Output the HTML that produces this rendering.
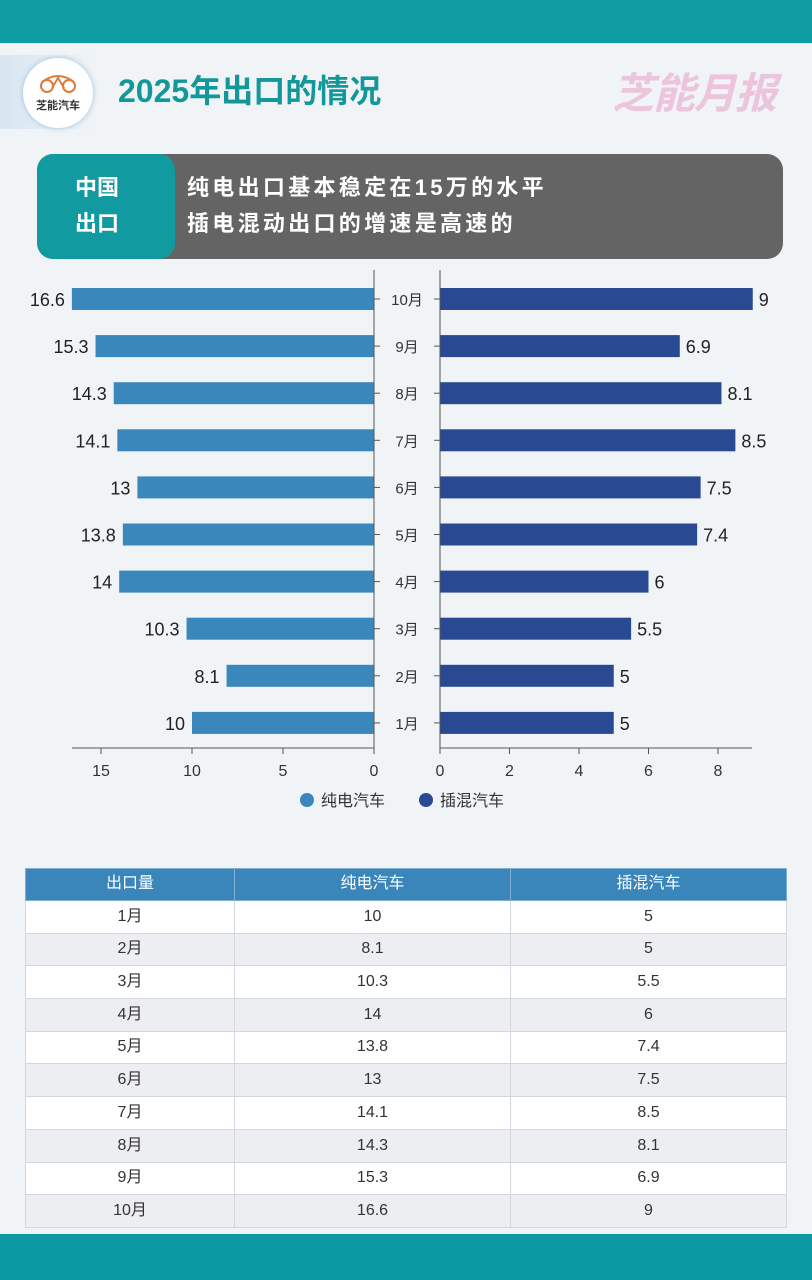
<!DOCTYPE html>
<html><head><meta charset="utf-8">
<style>
body{margin:0;width:812px;height:1280px;background:#f0f4f6;position:relative;overflow:hidden;font-family:"Liberation Sans","Noto Sans CJK SC",sans-serif;}
.abs{position:absolute;}
table{border-collapse:collapse;position:absolute;left:25px;top:868px;width:761px;font-size:16px;color:#333;table-layout:fixed;}
td,th{border:1px solid #d4d8dc;text-align:center;height:31.7px;padding:0;font-weight:normal;vertical-align:middle;line-height:20px;}
td span,th span{display:inline-block;line-height:20px;vertical-align:middle;}
th{background:#3a86bb;color:#fff;height:31px;border-color:#7fb0d4;}
tr:nth-child(odd) td{background:#fff;}
tr:nth-child(even) td{background:#eceef2;}
</style></head><body>
<div class="abs" style="left:0;top:0;width:812px;height:43px;background:#0f9ca3"></div>
<div class="abs" style="left:0;top:1234px;width:812px;height:46px;background:#0b9aa3"></div>
<div class="abs" style="left:0;top:55px;width:100px;height:74px;background:linear-gradient(90deg,#d8e6f2,#f0f4f6)"></div>
<div class="abs" style="left:23px;top:58px;width:70px;height:70px;border-radius:50%;background:#fff;box-shadow:0 0 6px #9cc0e0;text-align:center">
<svg width="40" height="22" style="margin-top:14px"><circle cx="9" cy="14" r="6" fill="none" stroke="#e07a3a" stroke-width="2"/><circle cx="31" cy="14" r="6" fill="none" stroke="#e07a3a" stroke-width="2"/><path d="M4 10 Q20 -2 36 10 M14 16 L20 6 L26 16" fill="none" stroke="#e07a3a" stroke-width="2"/></svg>
<div style="font-size:11px;color:#333;font-weight:bold;margin-top:-2px">芝能汽车</div></div>
<div class="abs" style="left:118px;top:66px;font-size:32px;font-weight:bold;color:#12989a">2025年出口的情况</div>
<div class="abs" style="left:612px;top:60px;font-size:42px;font-weight:bold;font-style:italic;color:#ecc4dc;letter-spacing:-1px">芝能月报</div>
<div class="abs" style="left:37px;top:154px;width:746px;height:105px;border-radius:16px;background:#646464;overflow:hidden">
<div style="position:absolute;left:0;top:0;width:138px;height:105px;background:#119aa0;border-radius:16px;color:#fff;font-size:22px;font-weight:bold;line-height:36px;padding:16px 0 0 38px;box-sizing:border-box">中国<br>出口</div>
<div style="position:absolute;left:150px;top:16px;color:#fff;font-size:22px;font-weight:bold;line-height:36px;letter-spacing:3.3px">纯电出口基本稳定在15万的水平<br>插电混动出口的增速是高速的</div></div>
<svg class="abs" style="left:0;top:270px" width="812" height="560" id="chart"></svg>
<table><colgroup><col style="width:209px"><col style="width:276px"><col style="width:276px"></colgroup><thead><tr><th><span>出口量</span></th><th><span>纯电汽车</span></th><th><span>插混汽车</span></th></tr></thead><tbody id="tb"></tbody></table>
<script>
const months=["10月","9月","8月","7月","6月","5月","4月","3月","2月","1月"];
const bev=[16.6,15.3,14.3,14.1,13,13.8,14,10.3,8.1,10];
const phev=[9,6.9,8.1,8.5,7.5,7.4,6,5.5,5,5];
const leftTicks=[15,10,5,0];
const rightTicks=[0,2,4,6,8];
const NS="http://www.w3.org/2000/svg";
const svg=document.getElementById('chart');
const oy=270;
const xl=v=>374-v*18.2;
const xr=v=>440+v*34.75;
const yc=i=>299+i*47.1-oy;
const axisY=748-oy;
function mk(t,a,p){const e=document.createElementNS(NS,t);for(const k in a)e.setAttribute(k,a[k]);(p||svg).appendChild(e);return e;}
months.forEach((m,i)=>{
 let r=mk('rect',{x:xl(bev[i]),y:yc(i)-11,width:xl(0)-xl(bev[i]),height:22,fill:'#3a87bb'});
 
 
 let r2=mk('rect',{x:xr(0),y:yc(i)-11,width:xr(phev[i])-xr(0),height:22,fill:'#294a93'});
 
 
 let t=mk('text',{x:xl(bev[i])-7,y:yc(i)+7,'text-anchor':'end','font-size':18,fill:'#222'});t.textContent=bev[i];
 
 
 let t2=mk('text',{x:xr(phev[i])+6,y:yc(i)+7,'font-size':18,fill:'#222'});t2.textContent=phev[i];
 
 
 let t3=mk('text',{x:407,y:yc(i)+6,'text-anchor':'middle','font-size':15,fill:'#333'});t3.textContent=m;
 
 
 mk('line',{x1:374,x2:380,y1:yc(i),y2:yc(i),stroke:'#555'});
 mk('line',{x1:434,x2:440,y1:yc(i),y2:yc(i),stroke:'#555'});
});
let a1=mk('line',{x1:374,x2:374,y1:0,y2:axisY,stroke:'#555'});
let a2=mk('line',{x1:440,x2:440,y1:0,y2:axisY,stroke:'#555'});
mk('line',{x1:72,x2:374,y1:axisY,y2:axisY,stroke:'#555'});
mk('line',{x1:440,x2:752,y1:axisY,y2:axisY,stroke:'#555'});
leftTicks.forEach(v=>{mk('line',{x1:xl(v),x2:xl(v),y1:axisY,y2:axisY+6,stroke:'#555'});let t=mk('text',{x:xl(v),y:axisY+28,'text-anchor':'middle','font-size':16,fill:'#333'});t.textContent=v;
 
 });
rightTicks.forEach(v=>{mk('line',{x1:xr(v),x2:xr(v),y1:axisY,y2:axisY+6,stroke:'#555'});let t=mk('text',{x:xr(v),y:axisY+28,'text-anchor':'middle','font-size':16,fill:'#333'});t.textContent=v;
 
 });
const lg=[["纯电汽车","#3a87bb",307],["插混汽车","#294a93",426]];
lg.forEach(l=>{let g=mk('g',{});
 
 
 mk('circle',{cx:l[2],cy:800-oy,r:7,fill:l[1]},g);let t=mk('text',{x:l[2]+14,y:806-oy,'font-size':16,fill:'#333'},g);t.textContent=l[0];});
const tb=document.getElementById('tb');
for(let i=months.length-1;i>=0;i--){const tr=document.createElement('tr');
 
 
 tr.innerHTML='<td><span>'+months[i]+'</span></td><td><span>'+bev[i]+'</span></td><td><span>'+phev[i]+'</span></td>';tb.appendChild(tr);}
</script>
</body></html>
